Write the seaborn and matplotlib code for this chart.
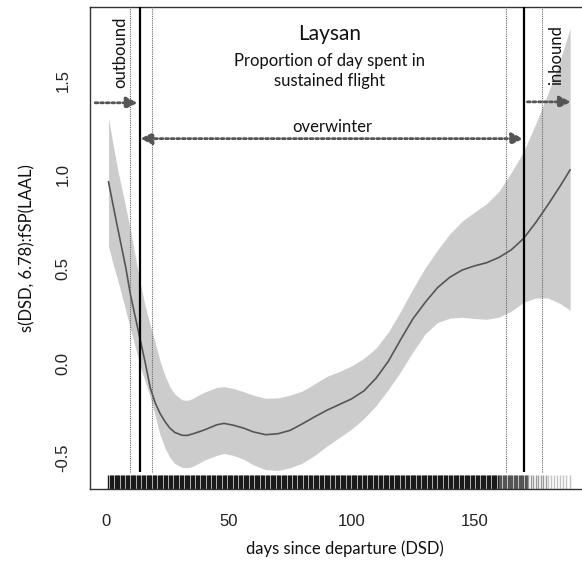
import numpy as np
import pandas as pd
import matplotlib
matplotlib.use("Agg")
import matplotlib.pyplot as plt
import seaborn as sns

# ---- data ----
days = [1, 3, 5, 8, 10, 12, 14, 16, 18, 20, 22, 24, 26, 28, 31, 33, 35, 38, 40, 45,
        48, 52, 56, 60, 65, 70, 75, 80, 85, 90, 95, 100, 105, 110, 115, 120, 125, 130,
        135, 140, 145, 150, 155, 160, 165, 170, 175, 180, 185, 189]
fit = [0.962, 0.83, 0.70, 0.51, 0.36, 0.24, 0.12, 0.00, -0.13, -0.21, -0.267, -0.31,
       -0.345, -0.368, -0.383, -0.384, -0.377, -0.364, -0.355, -0.328, -0.32, -0.33,
       -0.345, -0.365, -0.38, -0.375, -0.357, -0.322, -0.285, -0.25, -0.22, -0.19,
       -0.148, -0.08, 0.01, 0.125, 0.235, 0.322, 0.40, 0.455, 0.493, 0.515, 0.532,
       0.56, 0.60, 0.66, 0.745, 0.84, 0.94, 1.025]
upper = [1.30, 1.15, 1.01, 0.83, 0.70, 0.56, 0.42, 0.30, 0.20, 0.11, 0.01, -0.065,
         -0.125, -0.165, -0.195, -0.198, -0.19, -0.168, -0.155, -0.13, -0.125, -0.135,
         -0.152, -0.17, -0.187, -0.185, -0.17, -0.148, -0.11, -0.07, -0.045, -0.015,
         0.025, 0.08, 0.165, 0.275, 0.395, 0.505, 0.60, 0.685, 0.752, 0.80, 0.845,
         0.91, 1.01, 1.12, 1.27, 1.43, 1.61, 1.775]
lower = [0.62, 0.52, 0.43, 0.28, 0.18, 0.08, -0.02, -0.10, -0.18, -0.28, -0.38, -0.45,
         -0.50, -0.533, -0.553, -0.555, -0.55, -0.53, -0.515, -0.49, -0.48, -0.49,
         -0.51, -0.54, -0.565, -0.57, -0.555, -0.53, -0.49, -0.44, -0.395, -0.35,
         -0.295, -0.225, -0.14, -0.045, 0.06, 0.155, 0.215, 0.238, 0.243, 0.236, 0.232,
         0.243, 0.275, 0.322, 0.345, 0.345, 0.315, 0.28]

# observation days shown in the rug (dense, thinning out at the end)
rug_dense = np.arange(1, 160, 0.5)
rug_mid = np.arange(160, 172, 0.5)
rug_thin = np.arange(172, 180, 1.0)
rug_sparse = np.arange(180, 189.5, 1.25)

solid_lines = [14.0, 170.2]
dotted_lines = [9.7, 18.8, 162.7, 177.7]

x_ticks = [0, 50, 100, 150]
y_ticks = [-0.5, 0.0, 0.5, 1.0, 1.5]

df = pd.DataFrame({"DSD": days, "fit": fit, "upper": upper, "lower": lower})

# ---- figure ----
sns.set_style("white")
plt.rcParams["font.family"] = ["Lato", "DejaVu Sans"]

fig = plt.figure(figsize=(5.82, 5.65), dpi=100)
ax = fig.add_axes([0.1546, 0.1345, 0.8567, 0.8531])

XL = (-6.52, 196.5)
YL = (-0.668, 1.888)

ax.fill_between(df["DSD"], df["lower"], df["upper"], color="#cccccc", lw=0, zorder=1)
sns.lineplot(data=df, x="DSD", y="fit", ax=ax, color="#555555", lw=1.2, zorder=3)

for pos, col, lw in [(rug_dense, "#1a1a1a", 0.5), (rug_mid, "#555555", 0.5),
                     (rug_thin, "#999999", 0.6), (rug_sparse, "#c4c4c4", 0.6)]:
    sns.rugplot(x=pos, ax=ax, height=0.029, color=col, lw=lw,
                expand_margins=False, zorder=2)

ax.vlines(solid_lines, -0.576, YL[1], color="black", lw=1.6, zorder=4)
ax.vlines(dotted_lines, -0.576, YL[1], color="#666666", lw=0.8,
          linestyles=(0, (1, 1)), zorder=4)

arrow_kw = dict(arrowstyle="-|>", color="#555555", lw=2.0, linestyle=(0, (1, 1)),
                shrinkA=0, shrinkB=0, mutation_scale=17)
ax.annotate("", xy=(12.9, 1.38), xytext=(-4.4, 1.38), arrowprops=arrow_kw, zorder=5)
ax.annotate("", xy=(189.3, 1.385), xytext=(171.6, 1.385), arrowprops=arrow_kw, zorder=5)
arrow_kw2 = dict(arrow_kw)
arrow_kw2["arrowstyle"] = "<|-|>"
ax.annotate("", xy=(169.9, 1.19), xytext=(14.0, 1.19), arrowprops=arrow_kw2, zorder=5)

ax.text(91, 1.744, "Laysan", ha="center", va="center", fontsize=15, color="#111111")
ax.text(91, 1.548, "Proportion of day spent in\nsustained flight", ha="center",
        va="center", fontsize=12, color="#111111", linespacing=1.3)
ax.text(92, 1.21, "overwinter", ha="center", va="bottom", fontsize=12, color="#111111")
ax.text(5.9, 1.649, "outbound", ha="center", va="center", rotation=90, fontsize=12,
        color="#111111")
ax.text(183.1, 1.633, "inbound", ha="center", va="center", rotation=90, fontsize=12,
        color="#111111")

ax.set_xlim(*XL)
ax.set_ylim(*YL)
ax.set_xticks(x_ticks)
ax.set_yticks(y_ticks)
ax.set_xticklabels([str(t) for t in x_ticks], family="Liberation Sans", fontsize=12,
                   color="#222222")
ax.set_yticklabels([f"{t:.1f}" for t in y_ticks], family="Liberation Sans", fontsize=12,
                   color="#222222", rotation=90, va="center")
ax.tick_params(axis="both", direction="out", length=8, width=1.2, color="#999999")
ax.tick_params(axis="y", pad=6)
ax.tick_params(axis="x", pad=10)

ax.set_xlabel("days since departure (DSD)", fontsize=12, color="#111111")
ax.set_ylabel("s(DSD, 6.78):fSP(LAAL)", fontsize=12, color="#111111")
ax.xaxis.label.set_va("center")
ax.xaxis.set_label_coords(0.511, -0.1245)
ax.yaxis.label.set_va("center")
ax.yaxis.set_label_coords(-0.126, 0.5)

for s in ["left", "top", "bottom", "right"]:
    ax.spines[s].set_color("#333333")
    ax.spines[s].set_linewidth(1.0)

fig.savefig("out.png", dpi=100)
